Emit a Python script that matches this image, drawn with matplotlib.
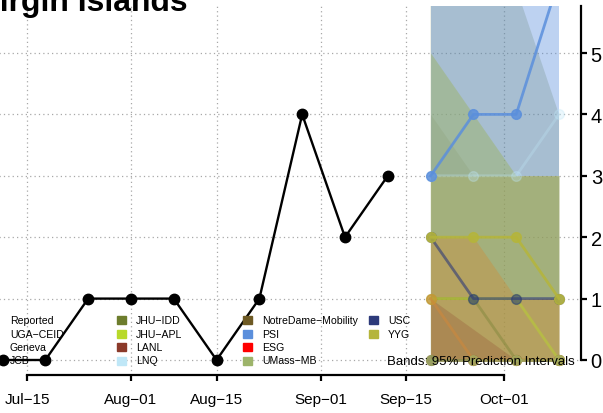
import matplotlib
matplotlib.use('Agg')
import matplotlib.pyplot as plt
import matplotlib.dates as mdates
import pandas as pd
from matplotlib.patches import Rectangle

plt.rcParams['font.family'] = ['Liberation Sans', 'DejaVu Sans']

# ── Data ─────────────────────────────────────────────────────────────────────
report_dates = ['2020-07-11', '2020-07-18', '2020-07-25', '2020-08-01', '2020-08-08',
                '2020-08-15', '2020-08-22', '2020-08-29', '2020-09-05', '2020-09-12']
report_cases = [0, 0, 1, 1, 1, 0, 1, 4, 2, 3]

fc_dates = ['2020-09-19', '2020-09-26', '2020-10-03', '2020-10-10']

legend_names = ['Reported', 'UGA-CEID', 'Geneva', 'JCB', 'JHU-IDD', 'JHU-APL', 'LANL',
                'LNQ', 'NotreDame-Mobility', 'PSI', 'ESG', 'UMass-MB', 'USC', 'YYG']
legend_colors = ['black', '#9a9a9a', '#d0883a', '#8c6d9e', '#6d7d2d', '#b8d92a', '#8b3a2a',
                 '#bfe7f7', '#6e5a24', '#5b8fdc', '#ff0000', '#9db46a', '#2d3a7a', '#b5b53a']

# layering of the bands, then of the median lines
band_order = ['JHU-IDD', 'JHU-APL', 'LNQ', 'NotreDame-Mobility', 'PSI', 'UMass-MB',
              'USC', 'Geneva', 'LANL', 'YYG']
line_order = ['LANL', 'NotreDame-Mobility', 'JHU-IDD', 'JHU-APL', 'LNQ', 'Geneva', 'USC',
              'PSI', 'UMass-MB', 'YYG']

# forecast medians and 95% bands per model
fc_median = {
    'Geneva':             [1, 0, 0, 0],
    'JHU-IDD':            [1, 1, 0, 0],
    'JHU-APL':            [1, 1, 1, 0],
    'LANL':               [0, 0, 0, 0],
    'LNQ':                [3, 3, 3, 4],
    'NotreDame-Mobility': [0, 0, 0, 0],
    'PSI':                [3, 4, 4, 6.2],
    'UMass-MB':           [0, 0, 0, 0],
    'USC':                [2, 1, 1, 1],
    'YYG':                [2, 2, 2, 1],
}
fc_lower = {
    'Geneva':             [0, 0, 0, 0],
    'JHU-IDD':            [0, 0, 0, 0],
    'JHU-APL':            [0, 0, 0, 0],
    'LANL':               [0, 0, 0, 0],
    'LNQ':                [1, 1, 1, 1],
    'NotreDame-Mobility': [0, 0, 0, 0],
    'PSI':                [3, 3, 3, 3],
    'UMass-MB':           [0, 0, 0, 0],
    'USC':                [0, 0, 0, 0],
    'YYG':                [0, 0, 0, 0],
}
fc_upper = {
    'Geneva':             [2, 2, 1, 1],
    'JHU-IDD':            [7, 7, 6.06, 4],
    'JHU-APL':            [3, 3, 3, 3],
    'LANL':               [1, 0.5, 0, 0],
    'LNQ':                [3, 3, 3, 3],
    'NotreDame-Mobility': [4, 3, 3, 3],
    'PSI':                [12, 12, 12, 12],
    'UMass-MB':           [5, 4, 3, 3],
    'USC':                [3, 3, 3, 3],
    'YYG':                [3, 3, 3, 3],
}
band_alpha = {'Geneva': 0.4, 'JHU-IDD': 0.25, 'JHU-APL': 0.08, 'LANL': 0.25, 'LNQ': 0.1,
              'NotreDame-Mobility': 0.2, 'PSI': 0.4, 'UMass-MB': 0.5, 'USC': 0.08,
              'YYG': 0.1}
line_alpha = {'Geneva': 0.55, 'JHU-IDD': 0.35, 'JHU-APL': 0.45, 'LANL': 0.5, 'LNQ': 0.3,
              'NotreDame-Mobility': 0.5, 'PSI': 0.85, 'UMass-MB': 0.6, 'USC': 0.6,
              'YYG': 0.85}

tick_dates = ['2020-07-15', '2020-08-01', '2020-08-15', '2020-09-01', '2020-09-15', '2020-10-01']
tick_labels = ['Jul\u221215', 'Aug\u221201', 'Aug\u221215', 'Sep\u221201', 'Sep\u221215', 'Oct\u221201']
y_ticks = [0, 1, 2, 3, 4, 5]

# ── Layout (pixel based) ─────────────────────────────────────────────────────
W, H = 603, 414
fig = plt.figure(figsize=(W / 100, H / 100), dpi=100)

ax_l, ax_r, ax_t, ax_b = -21, 581, 7, 376
ax = fig.add_axes([ax_l / W, 1 - ax_b / H, (ax_r - ax_l) / W, (ax_b - ax_t) / H])

to_num = lambda s: mdates.date2num(pd.to_datetime(s))
t_ticks = [to_num(d) for d in tick_dates]
px_day = (504 - 27) / (t_ticks[-1] - t_ticks[0])
ax.set_xlim(t_ticks[0] + (ax_l - 27) / px_day, t_ticks[0] + (ax_r - 27) / px_day)
px_unit = (361 - 54) / 5
ax.set_ylim(-(ax_b - 361) / px_unit, (361 - ax_t) / px_unit)

# grid
for t in t_ticks:
    ax.axvline(t, color='#a8a8a8', ls=(0, (1, 2.5)), lw=0.9, zorder=0)
for y in y_ticks:
    ax.axhline(y, color='#a8a8a8', ls=(0, (1, 2.5)), lw=0.9, zorder=0)

# forecasts
fx = [to_num(d) for d in fc_dates]
cmap = dict(zip(legend_names, legend_colors))
for name in band_order:
    ax.fill_between(fx, fc_lower[name], fc_upper[name], color=cmap[name],
                    alpha=band_alpha[name], lw=0, zorder=1)
for name in line_order:
    ax.plot(fx, fc_median[name], '-o', color=cmap[name], lw=2, ms=7,
            alpha=line_alpha[name], zorder=2)

# reported
rx = [to_num(d) for d in report_dates]
ax.plot(rx, report_cases, '-o', color='black', lw=1.7, ms=7.5, zorder=3)

# axes styling
for s in ['top', 'left']:
    ax.spines[s].set_visible(False)
ax.spines['bottom'].set_bounds(t_ticks[0], t_ticks[-1])
ax.spines['right'].set_bounds(0, ax.get_ylim()[1])
for s in ['bottom', 'right']:
    ax.spines[s].set_linewidth(1.6)
ax.yaxis.tick_right()
ax.set_yticks(y_ticks)
ax.set_xticks(t_ticks)
ax.set_xticklabels(tick_labels)
ax.tick_params(axis='x', length=4, width=1.6, pad=8, labelsize=11)
ax.tick_params(axis='y', length=4, width=1.6, pad=3, labelsize=14.5)
ax.patch.set_visible(False)

# legend (R style, 4 rows, column-major)
row_y = [321, 334.5, 348, 361.5]
col_x = [10, 136, 262, 388]
for i, (name, col) in enumerate(zip(legend_names, legend_colors)):
    c, r = divmod(i, 4)
    x, y = col_x[c], row_y[r]
    sx = x - 19 if c > 0 else x - 30
    fig.patches.append(Rectangle((sx / W, 1 - (y + 4) / H), 9 / W, 8 / H,
                                 transform=fig.transFigure, color=col, zorder=5))
    fig.text(x / W, 1 - y / H, name.replace('-', '\u2212'), fontsize=7.6,
             va='center', ha='left', zorder=5)

fig.text(575 / W, 1 - 362 / H, 'Bands: 95% Prediction Intervals', fontsize=9.5,
         va='center', ha='right', zorder=5)
fig.text(ax_l / W, 1 - 10.5 / H, 'Virgin Islands', fontsize=23, fontweight='bold',
         va='baseline', ha='left')

fig.savefig('out.png', dpi=100)
